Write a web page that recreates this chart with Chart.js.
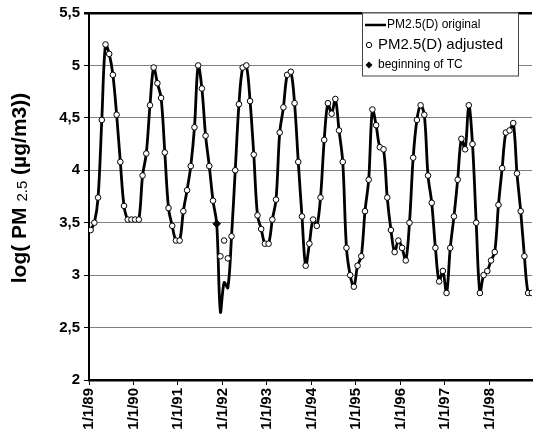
<!DOCTYPE html>
<html><head><meta charset="utf-8">
<script src="https://cdn.jsdelivr.net/npm/chart.js@4.4.0/dist/chart.umd.min.js"></script>
<style>html,body{margin:0;padding:0;background:#fff;} #wrap{width:537px;height:438px;}</style>
</head><body><div id="wrap"><canvas id="c" width="537" height="438"></canvas></div>
<script>
// ---- data ----
const xTickMonths = [0, 12, 24, 36, 48, 60, 72, 84, 96, 108];
const xTickLabels = ['1/1/89','1/1/90','1/1/91','1/1/92','1/1/93','1/1/94','1/1/95','1/1/96','1/1/97','1/1/98'];
const yTickValues = [2, 2.5, 3, 3.5, 4, 4.5, 5, 5.5];
const originalValues = [
  3.43,3.50,3.74,4.48,5.20,5.11,4.91,4.53,4.08,3.66,3.53,3.53,
  3.53,3.53,3.95,4.16,4.62,4.98,4.83,4.69,4.17,3.64,3.47,3.33,
  3.33,3.61,3.81,4.04,4.41,5.00,4.78,4.33,4.04,3.71,3.49,2.65,
  2.93,2.88,3.37,4.00,4.63,4.98,5.00,4.66,4.15,3.57,3.44,3.30,
  3.30,3.53,3.72,4.36,4.60,4.91,4.94,4.64,4.08,3.56,3.09,3.30,
  3.53,3.47,3.74,4.29,4.64,4.54,4.68,4.38,4.08,3.26,3.00,2.89,
  3.09,3.18,3.61,3.91,4.58,4.43,4.22,4.20,3.74,3.43,3.22,3.33,
  3.26,3.14,3.50,4.12,4.48,4.62,4.53,3.95,3.69,3.26,2.94,3.04,
  2.83,3.26,3.56,3.91,4.30,4.20,4.62,4.25,3.50,2.83,3.00,3.04,
  3.14,3.22,3.67,4.02,4.36,4.38,4.45,3.97,3.61,3.18,2.83,2.83
];
const adjustedValues = [
  3.43,3.50,3.74,4.48,5.20,5.11,4.91,4.53,4.08,3.66,3.53,3.53,
  3.53,3.53,3.95,4.16,4.62,4.98,4.83,4.69,4.17,3.64,3.47,3.33,
  3.33,3.61,3.81,4.04,4.41,5.00,4.78,4.33,4.04,3.71,null,3.18,
  3.33,3.16,3.37,4.00,4.63,4.98,5.00,4.66,4.15,3.57,3.44,3.30,
  3.30,3.53,3.72,4.36,4.60,4.91,4.94,4.64,4.08,3.56,3.09,3.30,
  3.53,3.47,3.74,4.29,4.64,4.54,4.68,4.38,4.08,3.26,3.00,2.89,
  3.09,3.18,3.61,3.91,4.58,4.43,4.22,4.20,3.74,3.43,3.22,3.33,
  3.26,3.14,3.50,4.12,4.48,4.62,4.53,3.95,3.69,3.26,2.94,3.04,
  2.83,3.26,3.56,3.91,4.30,4.20,4.62,4.25,3.50,2.83,3.00,3.04,
  3.14,3.22,3.67,4.02,4.36,4.38,4.45,3.97,3.61,3.18,2.83,2.83
];
const tcMonth = 34;
const tcValue = 3.49;
const seriesLabels = ['PM2.5(D) original', 'PM2.5(D) adjusted', 'beginning of TC'];

// ---- build ----
const MID = 0.45; // mid-month position
const toPts = arr => arr.map((v, i) => ({x: i + MID, y: v}));
const FONT = 'Arial, "Liberation Sans", sans-serif';

const legendPlugin = {
  id: 'customLegend',
  afterDraw(chart) {
    const ctx = chart.ctx;
    const bx = 362, by = 12.5, bw = 156, bh = 63;
    ctx.save();
    ctx.fillStyle = '#fff';
    ctx.fillRect(bx, by, bw, bh);
    ctx.strokeStyle = '#444';
    ctx.lineWidth = 1;
    ctx.strokeRect(bx + 0.5, by + 0.5, bw, bh);
    ctx.fillStyle = '#000';
    ctx.textBaseline = 'middle';
    ctx.strokeStyle = '#000';
    ctx.lineWidth = 2.5;
    ctx.beginPath(); ctx.moveTo(365, 25); ctx.lineTo(386, 25); ctx.stroke();
    ctx.font = '12px ' + FONT;
    ctx.fillText(seriesLabels[0], 387, 25);
    ctx.lineWidth = 1;
    ctx.beginPath(); ctx.arc(369, 45, 2.7, 0, Math.PI * 2);
    ctx.fillStyle = '#fff'; ctx.fill(); ctx.stroke();
    ctx.fillStyle = '#000';
    ctx.font = '15px ' + FONT;
    ctx.fillText(seriesLabels[1], 378, 45);
    ctx.beginPath();
    ctx.moveTo(369, 61.5); ctx.lineTo(372.5, 65); ctx.lineTo(369, 68.5); ctx.lineTo(365.5, 65); ctx.closePath();
    ctx.fill();
    ctx.font = '12px ' + FONT;
    ctx.fillText(seriesLabels[2], 378, 65);
    ctx.restore();
  }
};

const yTitlePlugin = {
  id: 'yTitle',
  afterDraw(chart) {
    const ctx = chart.ctx;
    const parts = [
      {t: 'log( PM ', f: 'bold 21px ' + FONT, dy: 0},
      {t: '2.5', f: '15px ' + FONT, dy: 1},
      {t: ' (\u00b5g/m3))', f: 'bold 21px ' + FONT, dy: 0}
    ];
    ctx.save();
    let total = 0;
    parts.forEach(p => { ctx.font = p.f; p.w = ctx.measureText(p.t).width; total += p.w; });
    ctx.translate(26, 188);
    ctx.rotate(-Math.PI / 2);
    ctx.fillStyle = '#000';
    ctx.textBaseline = 'alphabetic';
    let x = -total / 2;
    parts.forEach(p => { ctx.font = p.f; ctx.fillText(p.t, x, p.dy); x += p.w; });
    ctx.restore();
  }
};

new Chart(document.getElementById('c'), {
  type: 'line',
  data: {
    datasets: [
      {
        label: seriesLabels[2],
        data: [{x: tcMonth + MID, y: tcValue}],
        showLine: false,
        pointStyle: 'rectRot',
        pointRadius: 3.8,
        backgroundColor: '#000',
        borderColor: '#000',
        borderWidth: 1,
        order: 0
      },
      {
        label: seriesLabels[1],
        data: toPts(adjustedValues),
        showLine: false,
        pointStyle: 'circle',
        pointRadius: 2.8,
        backgroundColor: '#fff',
        borderColor: '#000',
        borderWidth: 1,
        order: 1
      },
      {
        label: seriesLabels[0],
        data: toPts(originalValues),
        borderColor: '#000',
        borderWidth: 2.8,
        pointRadius: 0,
        tension: 0.35,
        fill: false,
        order: 2
      }
    ]
  },
  options: {
    responsive: false,
    animation: false,
    devicePixelRatio: 1,
    layout: {padding: {top: 12, right: 0, bottom: 0, left: 0}},
    plugins: {legend: {display: false}, tooltip: {enabled: false}},
    scales: {
      x: {
        type: 'linear',
        min: 0,
        max: 119.5,
        afterBuildTicks: s => { s.ticks = xTickMonths.map(v => ({value: v})); },
        afterFit: s => { s.height = 58; },
        ticks: {
          autoSkip: false,
          maxRotation: 90,
          minRotation: 90,
          padding: 3,
          color: '#000',
          font: {family: FONT, size: 15, weight: 'bold'},
          callback: v => xTickLabels[xTickMonths.indexOf(v)]
        },
        grid: {drawOnChartArea: false, drawTicks: true, tickLength: 5, tickColor: '#000', tickWidth: 1},
        border: {display: true, color: '#000', width: 2.5}
      },
      y: {
        min: 2,
        max: 5.5,
        afterBuildTicks: s => { s.ticks = yTickValues.map(v => ({value: v})); },
        afterFit: s => { s.width = 89; },
        ticks: {
          padding: 4,
          color: '#000',
          font: {family: FONT, size: 15, weight: 'bold'},
          callback: v => String(v).replace('.', ',')
        },
        grid: {
          color: c => (c.tick && c.tick.value === 5.5) ? '#000' : '#808080',
          lineWidth: c => (c.tick && c.tick.value === 5.5) ? 2.5 : 1,
          tickColor: '#000',
          tickLength: 5
        },
        border: {display: true, color: '#000', width: 2}
      }
    }
  },
  plugins: [legendPlugin, yTitlePlugin]
});
</script>
</body></html>
